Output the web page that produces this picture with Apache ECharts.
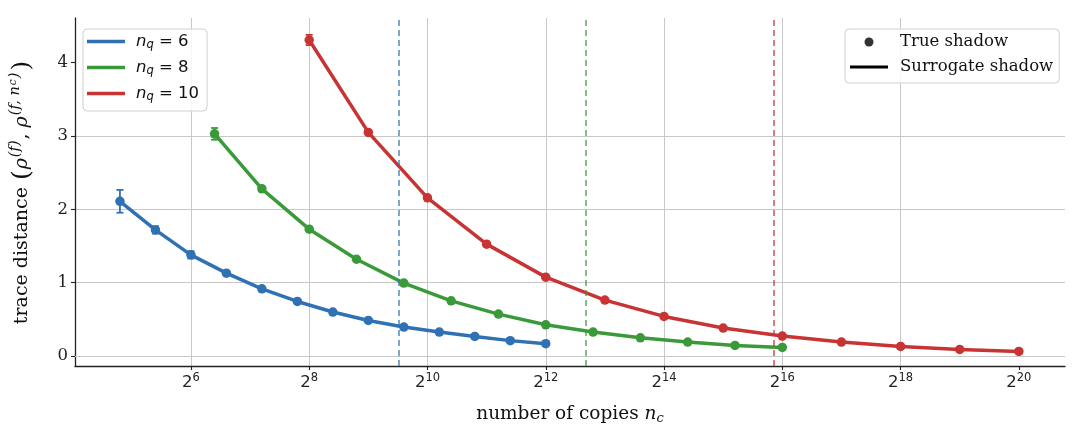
<!DOCTYPE html>
<html>
<head>
<meta charset="utf-8">
<script src="https://cdn.jsdelivr.net/npm/echarts@6/dist/echarts.min.js"></script>
<style>html,body{margin:0;padding:0;background:#fff}#c{width:1075px;height:430px}</style>
</head>
<body>
<div id="c"></div>
<script>
// log2 of number of copies (x positions) and trace distances
const log2Copies6 = [4.8, 5.4, 6.0, 6.6, 7.2, 7.8, 8.4, 9.0, 9.6, 10.2, 10.8, 11.4, 12.0];
const trace6 = [2.11, 1.72, 1.38, 1.13, 0.917, 0.744, 0.60, 0.485, 0.395, 0.327, 0.267, 0.21, 0.168];
const err6 = [0.155, 0.05, 0.05, 0.02, 0.01, 0, 0, 0, 0, 0, 0, 0, 0];

const log2Copies8 = [6.4, 7.2, 8.0, 8.8, 9.6, 10.4, 11.2, 12.0, 12.8, 13.6, 14.4, 15.2, 16.0];
const trace8 = [3.03, 2.28, 1.73, 1.32, 0.995, 0.753, 0.572, 0.426, 0.327, 0.249, 0.19, 0.145, 0.117];
const err8 = [0.08, 0.03, 0.01, 0, 0, 0, 0, 0, 0, 0, 0, 0, 0];

const log2Copies10 = [8, 9, 10, 11, 12, 13, 14, 15, 16, 17, 18, 19, 20];
const trace10 = [4.31, 3.05, 2.157, 1.526, 1.076, 0.763, 0.54, 0.381, 0.272, 0.19, 0.131, 0.09, 0.063];
const err10 = [0.07, 0.02, 0.01, 0, 0, 0, 0, 0, 0, 0, 0, 0, 0];

// vertical dashed thresholds (log2 of 3^nq)
const thresholds = [9.51, 12.68, 15.85];
const seriesNames = ['n_q = 6', 'n_q = 8', 'n_q = 10'];
const nqLabels = ['6', '8', '10'];
const xTickExps = [6, 8, 10, 12, 14, 16, 18, 20];
const yTicks = [0, 1, 2, 3, 4];

const colors = ['#3071b3', '#3a9a3a', '#c83333'];
const xs = [log2Copies6, log2Copies8, log2Copies10];
const ys = [trace6, trace8, trace10];
const es = [err6, err8, err10];

const series = [];
// baseline grid line at y = 0
series.push({
  type: 'line', data: [], z: 1, silent: true,
  markLine: {
    silent: true, symbol: ['none', 'none'], label: { show: false },
    lineStyle: { type: 'solid', width: 1, color: '#c8c8c8' },
    data: [{ yAxis: yTicks[0] }]
  }
});
for (let k = 0; k < 3; k++) {
  const data = xs[k].map((x, i) => [x, ys[k][i]]);
  series.push({
    name: seriesNames[k],
    type: 'line',
    data: data,
    symbol: 'circle',
    symbolSize: 9.5,
    lineStyle: { width: 3.5, color: colors[k] },
    itemStyle: { color: colors[k] },
    z: 3,
    animation: false,
    markLine: {
      silent: true,
      symbol: ['none', 'none'],
      label: { show: false },
      lineStyle: { type: [6, 4], width: 1.8, color: colors[k], opacity: 0.7 },
      data: [{ xAxis: thresholds[k] }]
    }
  });
  series.push({
    type: 'custom',
    name: seriesNames[k] + ' err',
    data: xs[k].map((x, i) => [x, ys[k][i], es[k][i]]),
    z: 4,
    animation: false,
    renderItem: function (params, api) {
      const x = api.value(0), y = api.value(1), e = api.value(2);
      if (!(e > 0.015)) return null;
      const top = api.coord([x, y + e]);
      const bot = api.coord([x, y - e]);
      const cw = 3.5;
      const st = { stroke: colors[k], lineWidth: 1.8 };
      return {
        type: 'group',
        children: [
          { type: 'line', shape: { x1: top[0], y1: top[1], x2: bot[0], y2: bot[1] }, style: st },
          { type: 'line', shape: { x1: top[0] - cw, y1: top[1], x2: top[0] + cw, y2: top[1] }, style: st },
          { type: 'line', shape: { x1: bot[0] - cw, y1: bot[1], x2: bot[0] + cw, y2: bot[1] }, style: st }
        ]
      };
    }
  });
}
// dummy series for the style legend
series.push({ name: 'True shadow', type: 'scatter', data: [], itemStyle: { color: '#000' } });
series.push({ name: 'Surrogate shadow', type: 'line', data: [], itemStyle: { color: '#000' }, lineStyle: { color: '#000' } });

const mathRich = {
  n: { fontFamily: 'DejaVu Sans', fontStyle: 'italic', fontSize: 16.5, lineHeight: 19, color: '#111' },
  q: { fontFamily: 'DejaVu Sans', fontStyle: 'italic', fontSize: 11.5, lineHeight: 11, verticalAlign: 'bottom', color: '#111' },
  t: { fontFamily: 'DejaVu Sans', fontSize: 16.5, lineHeight: 19, color: '#111' }
};

const option = {
  animation: false,
  backgroundColor: '#fff',
  grid: { left: 75, right: 10, top: 18, bottom: 63 },
  legend: [
    {
      data: seriesNames.map(n => ({ name: n, icon: 'path://M0,0 L38,0 L38,3.5 L0,3.5 Z' })),
      orient: 'vertical',
      left: 83, top: 29,
      itemWidth: 38, itemHeight: 14, itemGap: 8,
      padding: [4, 8, 8, 4],
      backgroundColor: 'rgba(255,255,255,0.85)',
      borderColor: '#d0d0d0', borderWidth: 1, borderRadius: 4,
      selectedMode: false,
      formatter: function (name) {
        const i = seriesNames.indexOf(name);
        return '{n|n}{q|q}{t| = ' + nqLabels[i] + '}';
      },
      textStyle: { padding: [0, 0, 0, 6], rich: mathRich }
    },
    {
      data: [
        { name: 'True shadow', icon: 'circle' },
        { name: 'Surrogate shadow', icon: 'path://M0,0 L38,0 L38,3 L0,3 Z' }
      ],
      orient: 'vertical',
      left: 845, top: 29,
      itemWidth: 38, itemHeight: 9, itemGap: 7,
      padding: [4, 6, 7, 5],
      backgroundColor: 'rgba(255,255,255,0.85)',
      borderColor: '#d0d0d0', borderWidth: 1, borderRadius: 4,
      selectedMode: false,
      textStyle: { fontFamily: 'DejaVu Serif', fontSize: 16.5, lineHeight: 18, color: '#111', padding: [0, 0, 0, 7] }
    }
  ],
  xAxis: {
    type: 'value',
    min: 4.04, max: 20.78,
    splitNumber: 8,
    name: '{t|number of copies }{i|n}{s|c}',
    nameLocation: 'middle',
    nameGap: 37,
    nameTextStyle: {
      rich: {
        t: { fontFamily: 'DejaVu Serif', fontSize: 18.5, lineHeight: 22, color: '#111' },
        i: { fontFamily: 'DejaVu Serif', fontStyle: 'italic', fontSize: 18.5, lineHeight: 22, color: '#111' },
        s: { fontFamily: 'DejaVu Serif', fontStyle: 'italic', fontSize: 13, lineHeight: 12, verticalAlign: 'bottom', color: '#111' }
      }
    },
    axisLine: { show: true, onZero: false, lineStyle: { color: '#222', width: 1.3 } },
    axisTick: { show: true, length: 4, customValues: xTickExps, lineStyle: { color: '#222', width: 1.1 } },
    axisLabel: {
      customValues: xTickExps,
      margin: 6,
      formatter: function (v) { return '{b|2}{s|' + Math.round(v) + '}'; },
      rich: {
        b: { fontFamily: 'DejaVu Sans', fontSize: 16.5, lineHeight: 21, color: '#222' },
        s: { fontFamily: 'DejaVu Sans', fontSize: 11.5, lineHeight: 12, verticalAlign: 'top', color: '#222' }
      }
    },
    splitLine: { show: true, showMinLine: true, showMaxLine: false, lineStyle: { color: '#c8c8c8', width: 1 } }
  },
  yAxis: {
    type: 'value',
    min: -0.136, max: 4.61,
    splitNumber: 5,
    name: '{t|trace distance }{p|(}{i|ρ}{s|(f)}{t|, }{i|ρ}{s|(f, n}{ss|c}{s|)}{p|)}',
    nameLocation: 'middle',
    nameGap: 39,
    nameRotate: 90,
    nameTextStyle: {
      rich: {
        t: { fontFamily: 'DejaVu Serif', fontSize: 19, lineHeight: 28, color: '#111' },
        p: { fontFamily: 'DejaVu Serif', fontSize: 25, lineHeight: 28, color: '#111', padding: [0, 1, 0, 1] },
        i: { fontFamily: 'DejaVu Serif', fontStyle: 'italic', fontSize: 19, lineHeight: 28, color: '#111' },
        s: { fontFamily: 'DejaVu Serif', fontStyle: 'italic', fontSize: 14.5, lineHeight: 17, verticalAlign: 'top', color: '#111', padding: [0, 1, 0, 1] },
        ss: { fontFamily: 'DejaVu Serif', fontStyle: 'italic', fontSize: 10.5, lineHeight: 21, verticalAlign: 'top', color: '#111' }
      }
    },
    axisLine: { show: true, lineStyle: { color: '#222', width: 1.3 } },
    axisTick: { show: true, length: 4, customValues: yTicks, lineStyle: { color: '#222', width: 1.1 } },
    axisLabel: {
      customValues: yTicks,
      margin: 7,
      fontFamily: 'DejaVu Serif', fontSize: 16.5, color: '#222',
      formatter: function (v) { return String(Math.round(v)); }
    },
    splitLine: { show: true, showMinLine: true, showMaxLine: false, lineStyle: { color: '#c8c8c8', width: 1 } }
  },
  series: series
};

const chart = echarts.init(document.getElementById('c'), null, { renderer: 'canvas' });
chart.setOption(option);
</script>
</body>
</html>
